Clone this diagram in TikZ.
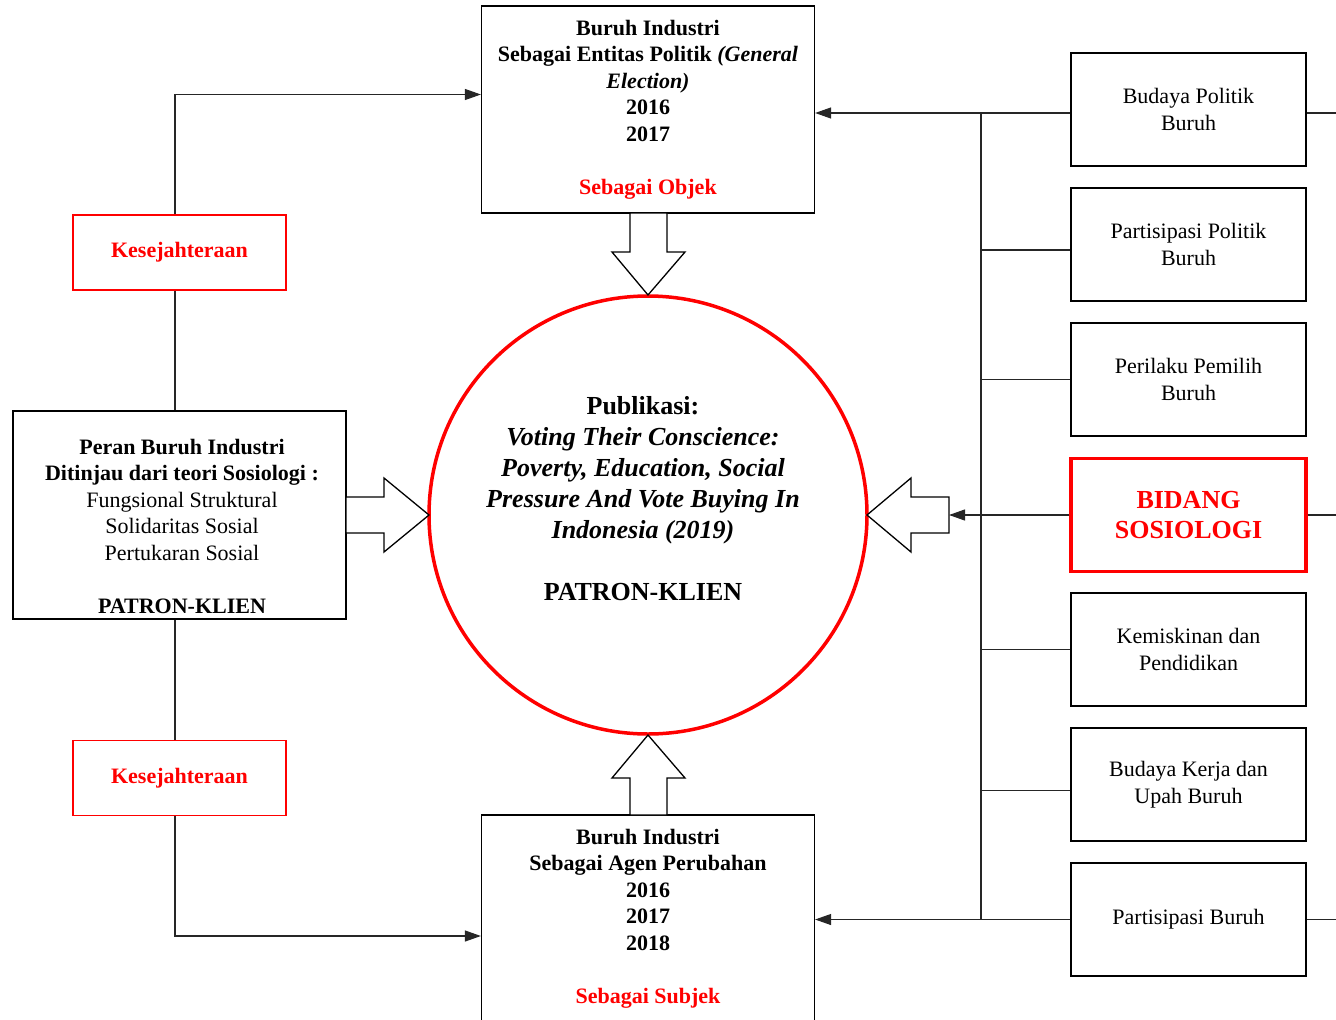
\documentclass[tikz,border=0pt]{standalone}
\usepackage{fontspec}
\setmainfont{Liberation Serif}
\usetikzlibrary{arrows.meta}

\begin{document}
\begin{tikzpicture}[x=1pt,y=-1pt]
            \tikzstyle{box}=[rectangle, draw=black, line width=1.2pt, align=center, inner sep=2pt, font=\fontsize{22}{26.5}\selectfont]
            \tikzstyle{mainbox}=[box, minimum width=333pt, minimum height=207pt, font=\fontsize{22}{26.5}\selectfont\bfseries]
            \tikzstyle{sidebox}=[box, minimum width=235pt, minimum height=113pt]
            \tikzstyle{welfare}=[box, draw=red, text=red, minimum width=213pt, minimum height=75pt, font=\fontsize{22}{26.5}\selectfont\bfseries]
            \tikzstyle{hub}=[circle, draw=red, line width=3.5pt, minimum size=438pt, inner sep=0pt]
            \tikzstyle{connect}=[line width=1.1pt, draw=black!85]
            \tikzstyle{tip}=[connect, -{Triangle[length=16pt,width=11pt]}]
            \tikzstyle{blockarrow}=[draw=black, line width=1.3pt, fill=white, line join=miter]

            \useasboundingbox (0,0) rectangle (1336,1020);

            \node[hub] (pub) at (648,515){};
            \node[align=center, font=\fontsize{26}{31}\selectfont\bfseries] (pubtext) at (643,498.5){Publikasi:\\\textit{Voting Their Conscience:}\\\textit{Poverty, Education, Social}\\\textit{Pressure And Vote Buying In}\\\textit{Indonesia (2019)}\\[31pt]PATRON-KLIEN};

            \node[mainbox] (top) at (648,109.5){Buruh Industri\\Sebagai Entitas Politik \textit{(General}\\\textit{Election)}\\2016\\2017\\[26.5pt]\textcolor{red}{Sebagai Objek}};
            \node[mainbox] (bottom) at (648,918.5){Buruh Industri\\Sebagai Agen Perubahan\\2016\\2017\\2018\\[26.5pt]\textcolor{red}{Sebagai Subjek}};

            \node[box, minimum width=333pt, minimum height=208pt] (role) at (179.5,515){};
            \node[align=center, font=\fontsize{22}{26.5}\selectfont] (roletext) at (182,526){\textbf{Peran Buruh Industri}\\\textbf{Ditinjau dari teori Sosiologi :}\\Fungsional Struktural\\Solidaritas Sosial\\Pertukaran Sosial\\[26.5pt]\textbf{PATRON-KLIEN}};
            \node[welfare] (welfareA) at (179.5,252.5){Kesejahteraan};
            \node[welfare] (welfareB) at (179.5,778){Kesejahteraan};

            \node[sidebox] (BP) at (1188.5,109.5){Budaya Politik\\Buruh};
            \node[sidebox] (PP) at (1188.5,244.5){Partisipasi Politik\\Buruh};
            \node[sidebox] (PE) at (1188.5,379.5){Perilaku Pemilih\\Buruh};
            \node[sidebox, draw=red, text=red, line width=3.5pt, font=\fontsize{26}{30}\selectfont\bfseries] (BS) at (1188.5,515){BIDANG\\SOSIOLOGI};
            \node[sidebox] (KP) at (1188.5,649.5){Kemiskinan dan\\Pendidikan};
            \node[sidebox] (BK) at (1188.5,784.5){Budaya Kerja dan\\Upah Buruh};
            \node[sidebox] (PB) at (1188.5,919.5){Partisipasi Buruh};

            % block arrows into the circle
            \draw[blockarrow] (630,213) -- (630,252) -- (612,252) -- (648,295) -- (685,252) -- (667,252) -- (667,213) -- cycle;
            \draw[blockarrow] (630,815) -- (630,778) -- (612,778) -- (648,735) -- (685,778) -- (667,778) -- (667,815) -- cycle;
            \draw[blockarrow] (346,497) -- (384,497) -- (384,478) -- (429,515) -- (384,552) -- (384,533) -- (346,533) -- cycle;
            \draw[blockarrow] (949,497) -- (911,497) -- (911,478) -- (867,515) -- (911,552) -- (911,533) -- (949,533) -- cycle;

            \coordinate (lx) at (175,0);
            \coordinate (bus) at (981,0);
            \coordinate (rtail) at (949,515);

            \draw[tip] (welfareA.north -| lx) |- ([yshift=15pt]top.west);
            \draw[connect] (welfareA.south -| lx) -- (role.north -| lx);
            \draw[connect] (role.south -| lx) -- (welfareB.north -| lx);
            \draw[tip] (welfareB.south -| lx) |- ([yshift=-17.5pt]bottom.west);

            \draw[connect] ([yshift=-3.5pt]BP.west -| bus) -- (bus |- PB.west);
            \draw[tip] ([yshift=-3.5pt]BP.west) -- ([yshift=-3.5pt]BP.west -| top.east);
            \draw[connect] ([yshift=-5.5pt]PP.west) -- ([yshift=-5.5pt]PP.west -| bus);
            \draw[connect] (PE.west) -- (PE.west -| bus);
            \draw[tip] (BS.west) -- (rtail);
            \draw[connect] (KP.west) -- (KP.west -| bus);
            \draw[connect] ([yshift=-6pt]BK.west) -- ([yshift=-6pt]BK.west -| bus);
            \draw[tip] (PB.west) -- (PB.west -| bottom.east);

            \draw[connect] ([yshift=-3.5pt]BP.east) -- ++(35,0);
            \draw[connect] (BS.east) -- ++(35,0);
            \draw[connect] (PB.east) -- ++(35,0);

        \end{tikzpicture}
\end{document}
